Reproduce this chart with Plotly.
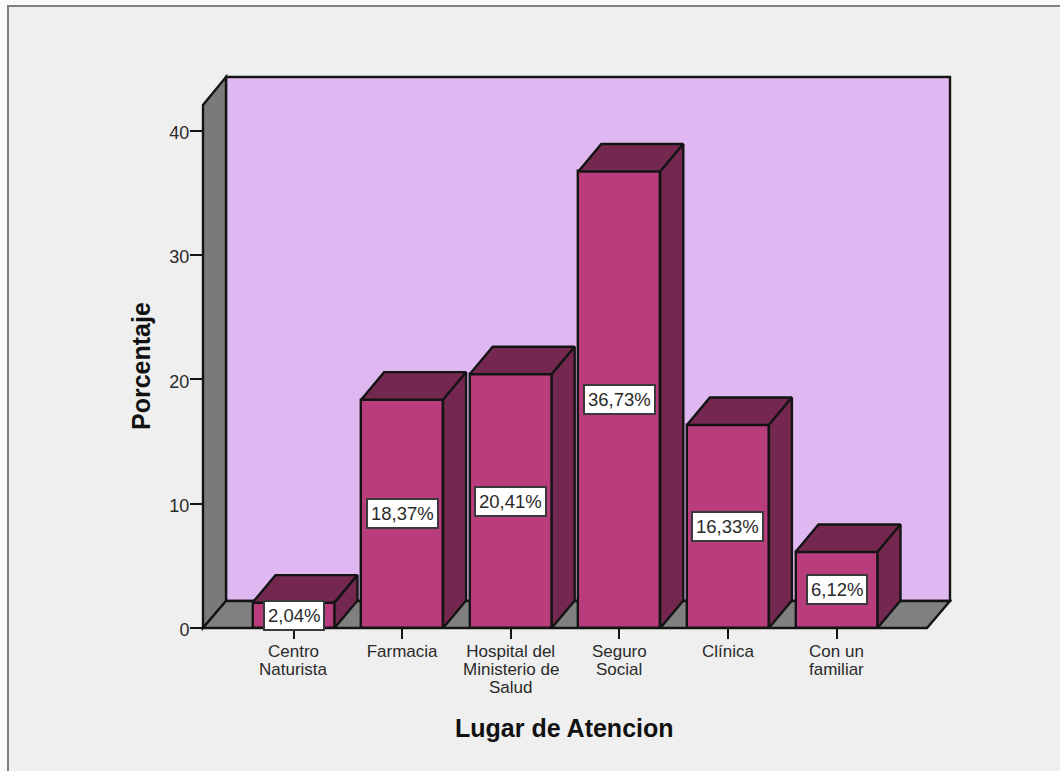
import plotly.graph_objects as go

# Survey results: share of respondents per place of care
category_lines = [
    ["Centro", "Naturista"],
    ["Farmacia"],
    ["Hospital del", "Ministerio de", "Salud"],
    ["Seguro", "Social"],
    ["Clínica"],
    ["Con un", "familiar"],
]
percentages = [2.04, 18.37, 20.41, 36.73, 16.33, 6.12]
y_ticks = [0, 10, 20, 30, 40]

# Page layout of the plotting box, in pixels
W, H = 1060, 771
BOX_L, BOX_R, BOX_T, BOX_B = 203, 950, 77, 628
PX_PER_CAT = 108.6
PX_PER_UNIT = 12.43
FIRST_CAT_PX = 293.5
DEPTH_PX_X, DEPTH_PX_Y = 23, 27.5
BAR_WIDTH = 0.755

DX = DEPTH_PX_X / PX_PER_CAT
DY = DEPTH_PX_Y / PX_PER_UNIT

x_range = [(BOX_L - FIRST_CAT_PX) / PX_PER_CAT, (BOX_R - FIRST_CAT_PX) / PX_PER_CAT]
y_range = [0, (BOX_B - BOX_T) / PX_PER_UNIT]

INK = "#141414"
TEXT = "#2A2A2A"
FONT = "Liberation Sans"
FACE = "#B93D7C"
SHADE = "#74284F"
WALL = "#7A7A7A"
FLOOR = "#808080"
BACK = "#DFB8F2"
PANEL = "#EFEFEF"
FRAME = "#7F7F7F"
EDGE = 2.4


def px_path(points):
    """SVG path in paper coordinates from page pixel points."""
    w, h = BOX_R - BOX_L, BOX_B - BOX_T
    parts = [f"{(x - BOX_L) / w:.5f},{(BOX_B - y) / h:.5f}" for x, y in points]
    return "M" + " L".join(parts) + " Z"


def paper_x(px):
    return (px - BOX_L) / (BOX_R - BOX_L)


def paper_y(px):
    return (BOX_B - px) / (BOX_B - BOX_T)


def backdrop(points, fill, line=INK, width=EDGE):
    return dict(type="path", xref="paper", yref="paper", layer="below",
                path=px_path(points), fillcolor=fill,
                line=dict(color=line, width=width))


shapes = [
    backdrop([(8, 6), (1100, 6), (1100, 800), (8, 800)], PANEL, FRAME, 2),
    backdrop([(226, 77), (950, 77), (950, 601), (226, 601)], BACK),
    backdrop([(203, 628), (203, 105), (226, 77), (226, 601)], WALL),
    backdrop([(203, 628), (226, 601), (950, 601), (927, 628)], FLOOR),
]

fig = go.Figure()

# Front faces of the bars
xs = list(range(len(percentages)))
fig.add_trace(go.Bar(
    x=xs, y=percentages, width=BAR_WIDTH, cliponaxis=False,
    marker=dict(color=FACE, line=dict(color=INK, width=EDGE)),
    hoverinfo="skip", showlegend=False,
))

# Top and side faces give each bar its depth
for x, v in zip(xs, percentages):
    left, right = x - BAR_WIDTH / 2, x + BAR_WIDTH / 2
    fig.add_trace(go.Scatter(
        x=[left, left + DX, right + DX, right, left],
        y=[v, v + DY, v + DY, v, v],
        mode="lines", fill="toself", fillcolor=SHADE, cliponaxis=False,
        line=dict(color=INK, width=EDGE), hoverinfo="skip", showlegend=False,
    ))
    fig.add_trace(go.Scatter(
        x=[right, right + DX, right + DX, right, right],
        y=[v, v + DY, DY, 0, v],
        mode="lines", fill="toself", fillcolor=SHADE, cliponaxis=False,
        line=dict(color=INK, width=EDGE), hoverinfo="skip", showlegend=False,
    ))

annotations = []

# Value labels centred on each bar's front face
for x, v in zip(xs, percentages):
    annotations.append(dict(
        x=x, y=v / 2, xref="x", yref="y", showarrow=False,
        text=f"{v:.2f}%".replace(".", ","),
        font=dict(family=FONT, size=18.5, color=TEXT),
        bgcolor="#FFFFFF", bordercolor="#3A3A3A", borderwidth=2, borderpad=3,
    ))

# Continuation lines of the category labels, set tighter than a <br> would be
LABEL_SIZE = 17
LINE_STEP_PX = 18.3
for x, lines in zip(xs, category_lines):
    for n, line in enumerate(lines[1:], start=1):
        annotations.append(dict(
            x=x, y=0, xref="x", yref="y", showarrow=False,
            yanchor="middle", yshift=-(23 + n * LINE_STEP_PX),
            text=line, font=dict(family=FONT, size=LABEL_SIZE, color=TEXT),
        ))

# Axis titles
annotations.append(dict(
    x=paper_x(564), y=paper_y(728), xref="paper", yref="paper",
    xanchor="center", yanchor="middle", showarrow=False,
    text="<b>Lugar de Atencion</b>",
    font=dict(family=FONT, size=25, color="#111111"),
))
annotations.append(dict(
    x=paper_x(141), y=paper_y(366), xref="paper", yref="paper",
    xanchor="center", yanchor="middle", showarrow=False, textangle=-90,
    text="<b>Porcentaje</b>",
    font=dict(family=FONT, size=25, color="#111111"),
))

fig.update_layout(
    width=W, height=H, autosize=False,
    margin=dict(l=BOX_L, r=W - BOX_R, t=BOX_T, b=H - BOX_B, pad=0),
    paper_bgcolor="#FAFAFA", plot_bgcolor="rgba(0,0,0,0)",
    shapes=shapes, annotations=annotations,
    bargap=0, showlegend=False,
    xaxis=dict(
        range=x_range, tickmode="array", tickvals=xs,
        ticktext=[lines[0] for lines in category_lines],
        ticks="outside", ticklen=10, tickwidth=2, tickcolor=INK,
        ticklabelstandoff=-2,
        tickangle=0, showgrid=False, zeroline=False, showline=False,
        tickfont=dict(family=FONT, size=LABEL_SIZE, color=TEXT),
    ),
    yaxis=dict(
        range=y_range, tickmode="array", tickvals=y_ticks,
        ticks="outside", ticklen=12, tickwidth=2, tickcolor=INK,
        ticklabelstandoff=-3, ticklabelshift=2,
        showgrid=False, zeroline=False, showline=False,
        tickfont=dict(family=FONT, size=18, color=TEXT),
    ),
)

fig.write_html("out.html")
